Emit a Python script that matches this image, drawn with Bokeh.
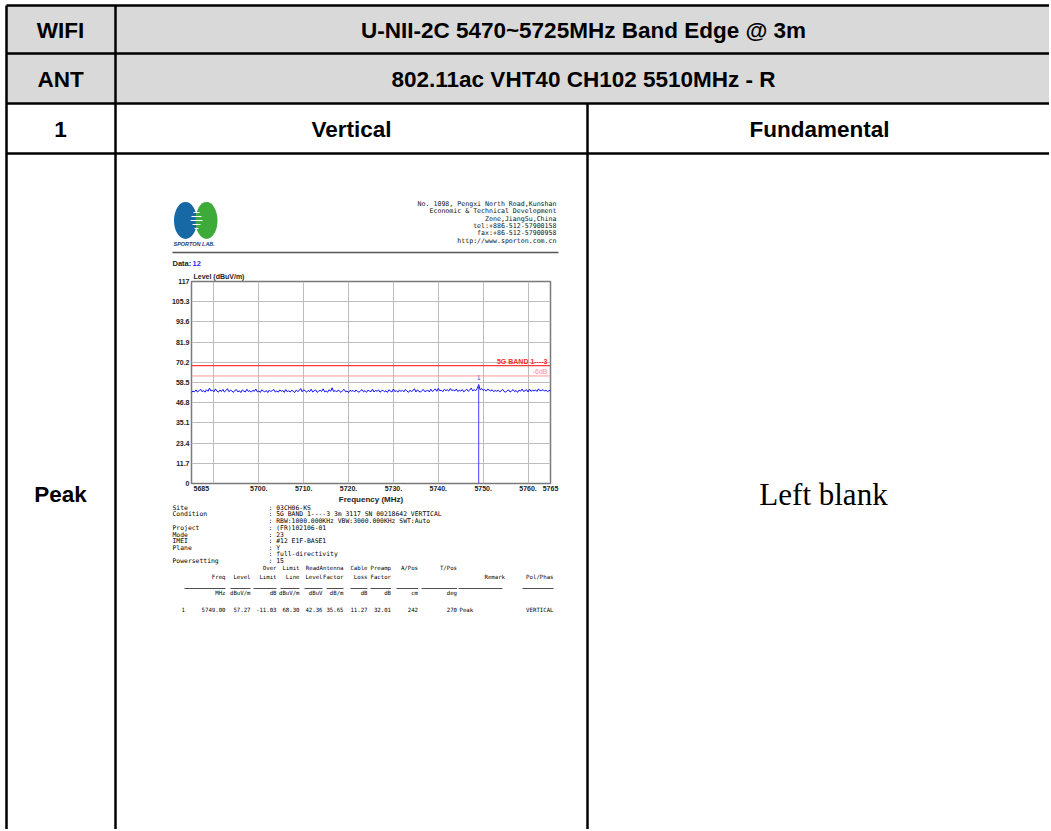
import numpy as np
from bokeh.plotting import figure
from bokeh.models import Range1d, FixedTicker, Label, GridBox, Span
from bokeh.core.properties import value
from bokeh.embed import file_html
from bokeh.resources import INLINE

# ---------------- data ----------------
row_labels = ["WIFI", "ANT", "1", "Peak"]
band_title = "U-NII-2C 5470~5725MHz Band Edge @ 3m"
ant_title = "802.11ac VHT40 CH102 5510MHz - R"
col_titles = ["Vertical", "Fundamental"]
blank_text = "Left blank"

address_lines = ["No. 1098, Pengxi North Road,Kunshan",
                 "Economic & Technical Development",
                 "Zone,JiangSu,China",
                 "tel:+886-512-57900158",
                 "fax:+86-512-57900958",
                 "http://www.sporton.com.cn"]
data_no = "12"

freq_start, freq_stop = 5685.0, 5765.0
level = [52.8, 53.5, 53.1, 54.2, 53.0, 53.7, 54.6, 53.2, 53.9, 52.9,
         54.3, 53.4, 55.2, 53.6, 54.0, 53.1, 54.8, 53.5, 52.9, 54.1,
         53.3, 54.5, 53.0, 53.8, 54.9, 53.2, 54.0, 53.6, 52.8, 53.9,
         54.4, 53.1, 53.7, 52.7, 54.2, 53.5, 53.0, 54.6, 53.3, 53.8,
         52.9, 54.0, 53.4, 54.7, 53.1, 53.6, 52.8, 54.3, 53.5, 53.0,
         53.9, 52.7, 54.1, 53.3, 53.8, 54.5, 53.0, 53.6, 52.9, 54.2,
         53.4, 53.9, 52.8, 54.4, 53.2, 53.7, 53.0, 54.0, 53.5, 52.7,
         54.1, 53.3, 53.8, 55.0, 53.1, 54.3, 53.6, 52.9, 53.9, 53.2,
         54.6, 53.0, 53.7, 54.2, 52.8, 53.5, 54.0, 53.3, 54.8, 53.1,
         53.6, 52.9, 54.3, 53.4, 55.4, 53.2, 53.9, 53.0, 54.1, 53.5,
         52.8, 53.8, 54.5, 53.1, 53.6, 52.7, 54.0, 53.4, 53.9, 53.0,
         54.2, 53.3, 52.9, 53.7, 54.4, 53.1, 53.8, 52.8, 54.1, 53.5,
         53.2, 54.6, 53.0, 53.9, 53.4, 54.2, 52.9, 53.6, 54.0, 53.1,
         53.7, 52.8, 54.3, 53.5, 53.0, 54.7, 53.2, 53.8, 52.9, 54.1,
         53.4, 53.9, 53.1, 54.5, 53.6, 52.8, 54.0, 53.3, 53.7, 54.9,
         53.0, 54.2, 53.5, 52.9, 53.8, 54.4, 53.2, 53.6, 54.1, 53.0,
         54.6, 53.3, 53.9, 54.8, 53.4, 55.1, 53.7, 54.0, 53.2, 54.5,
         53.8, 54.3, 53.5, 55.0, 53.9, 54.2, 53.6, 54.7, 53.3, 54.0,
         53.5, 54.4, 53.1, 53.9, 54.6, 53.4, 54.1, 55.2, 53.7, 54.3,
         53.8, 54.9, 57.27, 54.2, 55.0, 53.9, 54.4, 53.5, 54.6, 54.1,
         53.6, 54.3, 53.2, 53.9, 53.4, 54.0, 53.1, 53.7, 54.5, 53.3,
         52.9, 53.8, 54.2, 53.0, 53.6, 54.4, 53.2, 53.9, 52.8, 54.1,
         53.5, 54.7, 53.3, 53.8, 54.3, 53.0, 54.6, 53.4, 54.0, 53.6,
         54.2, 53.3, 54.8, 53.7, 53.9, 54.4, 53.5, 54.1, 53.2, 53.8,
         53.9]
freq = np.linspace(freq_start, freq_stop, len(level))

limit_name = "5G BAND 1----3"
limit_level = 68.30
limit6_name = "-6dB"
limit6_level = 62.30
marker_freq = [5749.00]
marker_level = [57.27]
marker_text = ["1"]

y_ticks = [0, 11.7, 23.4, 35.1, 46.8, 58.5, 70.2, 81.9, 93.6, 105.3, 117]
y_tick_labels = ["0", "11.7", "23.4", "35.1", "46.8", "58.5", "70.2", "81.9", "93.6", "105.3", "117"]
x_ticks = [5700, 5710, 5720, 5730, 5740, 5750, 5760, 5765]
x_tick_labels = ["5700.", "5710.", "5720.", "5730.", "5740.", "5750.", "5760.", "5765"]
x_grid = [5690, 5700, 5710, 5720, 5730, 5740, 5750, 5760]
y_axis_title = "Level (dBuV/m)"
x_axis_title = "Frequency (MHz)"

info_keys = ["Site", "Condition", "", "Project", "Mode", "IMEI", "Plane", "", "Powersetting"]
info_vals = [": 03CH06-KS",
             ": 5G BAND 1----3 3m 3117 SN 00218642 VERTICAL",
             ": RBW:1000.000KHz VBW:3000.000KHz SWT:Auto",
             ": (FR)102106-01",
             ": 23",
             ": #12 E1F-BASE1",
             ": Y",
             ": full-directivity",
             ": 15"]
hdr1 = ["", "", "Over", "Limit", "", "ReadAntenna", "Cable", "Preamp", "A/Pos", "T/Pos"]
hdr2 = ["Freq", "Level", "Limit", "Line", "Level", "Factor", "Loss", "Factor", "", ""]
units = ["MHz", "dBuV/m", "dB", "dBuV/m", "dBuV", "dB/m", "dB", "dB", "cm", "deg"]
row_no = "1"
row_vals = ["5749.00", "57.27", "-11.03", "68.30", "42.36", "35.65", "11.27", "32.01", "242", "270"]
row_remark = "Peak"
row_pol = "VERTICAL"

# ---------------- page background (table, header, info block) ----------------
W, H = 1049, 829
SANS = value("Liberation Sans")
MONO = value("DejaVu Sans Mono")

bg = figure(width=W, height=H, x_range=Range1d(0, W), y_range=Range1d(H, 0),
            output_backend="svg", toolbar_location=None, min_border=0,
            x_axis_location=None, y_axis_location=None)
bg.grid.visible = False
bg.outline_line_color = None
bg.background_fill_alpha = 0
bg.border_fill_alpha = 0

bg.quad(left=[6], right=[W], top=[5], bottom=[103], fill_color="#d9d9d9", line_color=None)
hx0 = [6, 6, 6, 6, 6, 115, 587]
hy0 = [5, 53, 103, 153, 5, 5, 103]
hx1 = [W, W, W, W, 6, 115, 587]
hy1 = [5, 53, 103, 153, H, H, H]
bg.segment(x0=hx0, y0=hy0, x1=hx1, y1=hy1, line_color="black", line_width=2.5)

big = dict(text_font=SANS, text_font_size="22.5px", text_font_style="bold",
           text_align="center", text_baseline="middle", text_color="black")
bg.text(x=[60, 60, 60, 60], y=[30, 79, 129, 494], text=row_labels, **big)
bg.text(x=[583, 583], y=[30, 79], text=[band_title, ant_title], **big)
bg.text(x=[351, 819], y=[129, 129], text=col_titles, **big)
bg.text(x=[823], y=[494], text=[blank_text], text_font=value("Liberation Serif"),
        text_font_size="31px", text_align="center", text_baseline="middle", text_color="black")

# logo
bg.ellipse(x=[185], y=[220], width=[23], height=[37], fill_color="#1769a6", line_color=None)
bg.ellipse(x=[206], y=[220], width=[22], height=[37], fill_color="#3daa3a", line_color=None)
bg.segment(x0=[193, 191, 190, 192, 194], y0=[212, 216, 220, 224, 228],
           x1=[199, 201, 202, 200, 198], y1=[212, 216, 220, 224, 228],
           line_color="white", line_width=1.2)
bg.text(x=[173], y=[243], text=["SPORTON LAB."], text_font=SANS, text_font_size="5.5px",
        text_font_style="bold italic", text_color="#1f3a70", text_baseline="middle")
bg.text(x=[556] * 6, y=[203, 210.5, 218, 225.5, 232.5, 240], text=address_lines,
        text_font=MONO, text_font_size="6.6px", text_align="right", text_baseline="middle",
        text_color="#111111")
bg.segment(x0=[172], y0=[252], x1=[558], y1=[252], line_color="#555555", line_width=1.5)
bg.text(x=[172], y=[263], text=["Data:"], text_font=SANS, text_font_size="7.5px",
        text_font_style="bold", text_baseline="middle", text_color="#222222")
bg.text(x=[192], y=[263], text=[data_no], text_font=SANS, text_font_size="7.5px",
        text_font_style="bold", text_baseline="middle", text_color="#2a2aff")

# chart texts that sit outside the plotting frame
bg.text(x=[193], y=[279], text=[y_axis_title], text_font=SANS, text_font_size="7px",
        text_font_style="bold", text_baseline="bottom", text_color="#222222")
bg.text(x=[193], y=[488], text=[str(int(freq_start))], text_font=SANS, text_font_size="7px",
        text_font_style="bold", text_baseline="middle", text_color="#222222")

# info block
mono = dict(text_font=MONO, text_font_size="6.4px", text_baseline="middle", text_color="#000000")
info_y = [507, 513.5, 520, 527.5, 534, 540.5, 547, 553.5, 560.5]
bg.text(x=[172] * len(info_keys), y=info_y, text=info_keys, **mono)
bg.text(x=[268] * len(info_vals), y=info_y, text=info_vals, **mono)

tab = dict(text_font=MONO, text_font_size="5.7px", text_baseline="middle", text_color="#000000")
col_right = [225, 250, 276, 299, 322, 343, 367, 390.5, 417.5, 456.5]
col_left = [184, 230, 253, 280, 304, 326, 350, 370, 396, 421]
bg.text(x=col_right, y=[567] * 10, text=hdr1, text_align="right", **tab)
bg.text(x=col_right, y=[576] * 10, text=hdr2, text_align="right", **tab)
bg.text(x=[484], y=[576], text=["Remark"], text_align="left", **tab)
bg.text(x=[553], y=[576], text=["Pol/Phas"], text_align="right", **tab)
ul_x0 = col_left + [458, 522]
ul_x1 = col_right + [502, 553]
bg.segment(x0=ul_x0, y0=[588] * 12, x1=ul_x1, y1=[588] * 12, line_color="#222222", line_width=0.8)
bg.text(x=col_right, y=[592] * 10, text=units, text_align="right", **tab)
bg.text(x=col_right, y=[609] * 10, text=row_vals, text_align="right", **tab)
bg.text(x=[181, 459], y=[609, 609], text=[row_no, row_remark], text_align="left", **tab)
bg.text(x=[553], y=[609], text=[row_pol], text_align="right", **tab)

# ---------------- spectrum chart ----------------
CL, CT, CW, CH = 160, 268, 400, 245
chart = figure(width=CW, height=CH, x_range=Range1d(freq_start, freq_stop), y_range=Range1d(0, 117),
               output_backend="svg", toolbar_location=None,
               min_border_left=31, min_border_right=10, min_border_top=13, min_border_bottom=30)
chart.background_fill_alpha = 0
chart.border_fill_alpha = 0
chart.outline_line_color = "#7a7a7a"
chart.outline_line_width = 1.5

chart.xaxis.ticker = FixedTicker(ticks=x_ticks)
chart.xaxis.major_label_overrides = {t: l for t, l in zip(x_ticks, x_tick_labels)}
chart.yaxis.ticker = FixedTicker(ticks=y_ticks)
chart.yaxis.major_label_overrides = {t: l for t, l in zip(y_ticks, y_tick_labels)}
chart.xgrid.ticker = FixedTicker(ticks=x_grid)
chart.ygrid.ticker = FixedTicker(ticks=y_ticks)
chart.grid.grid_line_color = "#bdbdbd"
chart.grid.grid_line_width = 1
for ax in (chart.xaxis, chart.yaxis):
    ax.axis_line_color = None
    ax.major_tick_line_color = None
    ax.minor_tick_line_color = None
    ax.major_tick_out = 0
    ax.major_tick_in = 0
    ax.minor_tick_out = 0
    ax.minor_tick_in = 0
    ax.major_label_text_font = "Liberation Sans"
    ax.major_label_text_font_size = "7px"
    ax.major_label_text_font_style = "bold"
    ax.major_label_text_color = "#222222"
    ax.major_label_standoff = 2
chart.xaxis.axis_label = x_axis_title
chart.xaxis.axis_label_text_font = "Liberation Sans"
chart.xaxis.axis_label_text_font_size = "8px"
chart.xaxis.axis_label_text_font_style = "bold"
chart.xaxis.axis_label_text_color = "#222222"
chart.xaxis.axis_label_standoff = 1

chart.add_layout(Span(location=limit_level, dimension="width", line_color="#ff3b3b", line_width=1.2))
chart.add_layout(Span(location=limit6_level, dimension="width", line_color="#ff9a9a", line_width=1))
chart.line(freq, level, line_color="#0a0aff", line_width=1)
chart.segment(x0=marker_freq, y0=[0], x1=marker_freq, y1=marker_level, line_color="#4040ff", line_width=1)
chart.text(x=marker_freq, y=marker_level, text=marker_text, y_offset=-5, text_align="center",
           text_baseline="bottom", text_font=SANS, text_font_size="7px", text_color="#4040ff")

chart.add_layout(Label(x=freq_stop, y=limit_level, text=limit_name, x_offset=-3, y_offset=1,
                       text_align="right", text_baseline="bottom", text_color="#ff2a2a",
                       text_font="Liberation Sans", text_font_size="7px", text_font_style="bold"))
chart.add_layout(Label(x=freq_stop, y=limit6_level, text=limit6_name, x_offset=-3, y_offset=1,
                       text_align="right", text_baseline="bottom", text_color="#ff8a8a",
                       text_font="Liberation Sans", text_font_size="7px"))

layout = GridBox(children=[(bg, 0, 0, 3, 3), (chart, 1, 1)],
                 rows=[f"{CT}px", f"{CH}px", f"{H - CT - CH}px"],
                 cols=[f"{CL}px", f"{CW}px", f"{W - CL - CW}px"])

open("out.html", "w").write(file_html(layout, INLINE))
